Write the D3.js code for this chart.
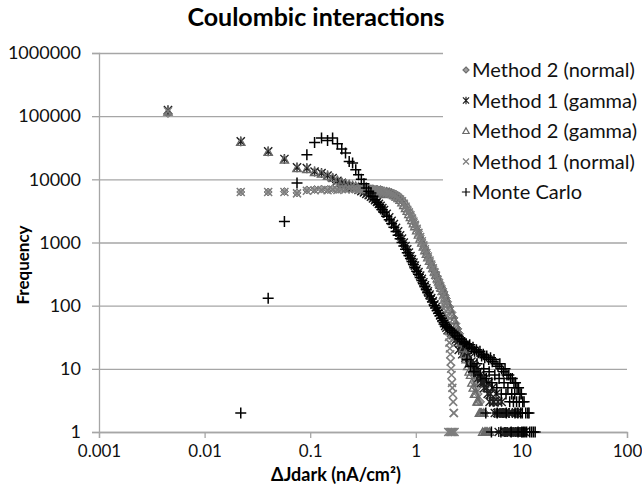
<!DOCTYPE html>
<html><head><meta charset="utf-8">
<script src="https://cdn.jsdelivr.net/npm/d3@7"></script>
<style>body{margin:0;background:#fff}svg{display:block}text{font-family:Lato,"Open Sans",sans-serif}</style>
</head><body>
<svg id="chart" width="642" height="500"></svg>
<script>
// ---------- data ----------
const chartTitle = "Coulombic interactions";
const xTitle = "ΔJdark (nA/cm²)";
const yTitle = "Frequency";
const xTicks = [0.001, 0.01, 0.1, 1, 10, 100];
const xTickLabels = ["0.001", "0.01", "0.1", "1", "10", "100"];
const yTicks = [1, 10, 100, 1000, 10000, 100000, 1000000];
const yTickLabels = ["1", "10", "100", "1000", "10000", "100000", "1000000"];
const seriesNames = ["Method 2 (normal)", "Method 1 (gamma)", "Method 2 (gamma)", "Method 1 (normal)", "Monte Carlo"];

// Method 2 (normal)
const m2nX = [0.0045,0.022,0.040,0.057,0.075,0.093,0.110,0.128,0.146,0.163,0.181,0.199,0.216,0.234,0.252,0.270,0.287,0.305,0.323,0.340,0.358,0.376,0.393,0.411,0.429,0.447,0.464,0.482,0.500,
  0.53,0.56,0.59,0.62,0.65,0.68,0.71,0.74,0.77,0.80,0.83,0.86,0.89,0.92,0.95,0.98,
  1.02,1.06,1.10,1.14,1.18,1.22,1.26,1.30,1.35,1.40,1.45,1.50,1.55,1.60,1.65,1.70,1.75,1.80,1.85,1.90,1.95,2.00,
  2.10,2.20,2.30,2.40,2.50,2.60,2.70,2.80,2.90,3.00,3.10,3.20,3.30,3.40,3.50,3.60,3.70,3.80,3.90,4.00,4.10,4.20,4.30,4.40,4.50,4.60,4.80];
const m2nY = [110000,6300,6300,6400,6100,6800,6900,7000,6900,7100,7000,7200,7100,7300,7200,7300,7100,7200,7300,7100,7200,7000,7100,6900,7000,6800,6900,6700,6600,
  6500,6400,6200,6000,5800,5500,5200,4800,4400,4000,3600,3200,2900,2600,2300,2050,
  1750,1500,1280,1100,950,820,720,630,550,480,420,370,330,290,260,230,205,185,165,145,130,115,
  95,78,64,52,43,36,30,25,21,18,15,12,11,9,8,6,5,5,4,3,3,2,2,1,2,1,1];

// Method 1 (gamma)
const m1gX = [0.0045,0.022,0.040,0.057,0.075,0.093,0.110,0.128,0.146,0.163,0.181,0.199,0.216,0.234,0.252,0.270,0.287,0.305,0.323,0.340,0.358,0.376,0.393,0.411,0.429,0.447,0.464,0.482,0.500,
  0.53,0.56,0.59,0.62,0.65,0.68,0.71,0.74,0.77,0.80,0.83,0.86,0.89,0.92,0.95,0.98,
  1.02,1.06,1.10,1.14,1.18,1.22,1.26,1.30,1.35,1.40,1.45,1.50,1.55,1.60,1.65,1.70,1.75,1.80,1.85,1.90,1.95,2.00,
  2.08,2.16,2.24,2.32,2.40,2.50,2.60,2.70,2.80,2.90,3.00,3.12,3.24,3.36,3.48,3.60,3.75,3.90,4.05,4.20,
  4.35,4.50,4.70,4.90,5.10,5.30,5.50,5.75,6.00,6.25,6.50,6.75,7.00,7.30,7.60,7.90,8.20,8.50,8.80,9.10,
  9.50,9.90,10.4,5.6,6.1,6.6,7.1,7.7,8.3,8.9,9.3,9.7,10.2,10.8,
  2.55,2.75,2.95,3.18,3.42,3.65,3.85,4.15,4.45,4.80,5.00,5.40,5.90,6.40,6.90,7.40];
const m1gY = [125000,40000,27700,21000,15500,15000,13300,12600,11500,10500,9500,8800,8200,7800,7400,7100,6800,6500,6200,5900,5600,5300,5000,4700,4400,4100,3800,3500,3250,
  2850,2500,2200,1950,1700,1500,1300,1150,1000,880,780,690,610,540,480,430,
  380,340,300,265,235,210,188,168,150,132,118,105,95,86,78,70,64,58,53,48,45,41,
  40,37,34,31,29,27,25,23,21,19,18,16,15,13,12,11,10,9,8,7,
  6,7,5,6,4,5,3,4,3,2,3,2,2,1,2,1,2,1,1,1,
  1,1,1,2,1,2,1,2,1,2,2,1,1,1,
  20,17,15,12,10,9,7,6,5,4,3,3,2,2,1,1];

// Method 2 (gamma)
const m2gX = [0.0045,0.022,0.040,0.057,0.075,0.093,0.110,0.128,0.146,0.163,0.181,0.199,0.216,0.234,0.252,0.270,0.287,0.305,0.323,0.340,0.358,0.376,0.393,0.411,0.429,0.447,0.464,0.482,0.500,
  0.53,0.56,0.59,0.62,0.65,0.68,0.71,0.74,0.77,0.80,0.83,0.86,0.89,0.92,0.95,0.98,
  1.02,1.06,1.10,1.14,1.18,1.22,1.26,1.30,1.35,1.40,1.45,1.50,1.55,1.60,1.65,1.70,1.75,1.80,1.85,1.90,1.95,2.00,
  2.10,2.20,2.30,2.40,2.50,2.60,2.70,2.80,2.90,3.00,3.10,3.20,3.30,3.40,3.50,3.60,3.70,3.80,3.90,4.00,
  4.10,4.20,4.30,4.40,4.50,4.60,4.70,4.80,5.00];
const m2gY = [118000,39000,27000,20500,15000,14500,13000,12300,11300,10500,9600,9000,8600,8300,8000,7800,7600,7500,7300,7200,7000,6900,6700,6600,6400,6300,6100,6000,5800,
  6300,6100,5900,5600,5300,5000,4700,4300,3900,3500,3150,2800,2500,2250,2000,1800,
  1550,1330,1150,990,860,750,660,580,510,445,390,345,305,270,240,212,190,170,150,134,120,107,
  88,72,59,48,39,32,26,21,17,14,11,9,8,6,5,4,4,3,3,2,
  2,2,1,2,1,1,1,1,1];

// Method 1 (normal)
const m1nX = [0.0045,0.022,0.040,0.057,0.075,0.093,0.110,0.128,0.146,0.163,0.181,0.199,0.216,0.234,0.252,0.270,0.287,0.305,0.323,0.340,0.358,0.376,0.393,0.411,0.429,0.447,0.464,0.482,0.500,
  0.53,0.56,0.59,0.62,0.65,0.68,0.71,0.74,0.77,0.80,0.83,0.86,0.89,0.92,0.95,0.98,
  1.02,1.06,1.10,1.14,1.18,1.22,1.26,1.30,1.35,1.40,1.45,1.50,1.55,1.60,1.65,1.70,1.75,1.80,1.85,
  1.88,1.91,1.94,1.97,2.00,2.02,2.04,2.06,2.08,2.10,2.12,2.14,2.16,2.18,2.20,2.22,2.24,2.26,2.28,2.30,
  2.03,2.09,2.15,2.21,2.27,2.33];
const m1nY = [120000,6300,6300,6300,6000,6600,6700,6800,6700,6900,6800,7000,6900,7100,7000,7000,6900,7000,7100,6900,7000,6800,6900,6700,6700,6500,6500,6300,6200,
  6100,6000,5800,5600,5400,5100,4800,4500,4100,3700,3300,3000,2700,2400,2150,1900,
  1650,1420,1220,1050,900,780,680,600,520,450,390,340,300,260,225,195,170,145,125,
  108,95,82,70,58,48,40,32,26,21,17,13,10,8,6,5,4,3,2,2,
  1,1,1,1,1,1];

// Monte Carlo
const mcX = [0.022,0.040,0.057,0.075,0.093,0.110,0.128,0.146,0.163,0.181,0.199,0.216,0.234,0.252,0.270,0.287,0.305,0.323,0.340,0.358,0.376,0.393,0.411,0.429,0.447,0.464,0.482,0.500,
  0.53,0.56,0.59,0.62,0.65,0.68,0.71,0.74,0.77,0.80,0.83,0.86,0.89,0.92,0.95,0.98,
  1.02,1.06,1.10,1.14,1.18,1.22,1.26,1.30,1.35,1.40,1.45,1.50,1.55,1.60,1.65,1.70,1.75,1.80,1.85,1.90,1.95,2.00,
  2.08,2.16,2.24,2.32,2.40,2.50,2.60,2.70,2.80,2.90,3.00,3.12,3.24,3.36,3.48,3.60,3.75,3.90,4.05,4.20,
  4.35,4.50,4.70,4.90,5.10,5.30,5.50,5.75,6.00,6.25,6.50,6.75,7.00,7.30,7.60,7.90,8.20,8.50,8.80,9.10,
  9.40,9.70,10.0,10.3,10.6,11.0,11.5,12.0,13.0,
  4.6,5.2,5.9,6.4,7.2,8.0,8.7,9.3,10.1,10.8,12.5,13.5,
  3.05,3.30,3.55,3.80,4.10,4.40,4.65,4.95,5.25,5.60,5.85,6.15,6.45,6.85,7.15,7.45,7.75,8.10,8.40,8.65,9.00,9.25,9.55,9.85,10.2,10.45,11.2,11.8];
const mcY = [2,131,2150,8750,24500,38400,45100,41300,45100,36700,30200,26100,19200,18100,14200,11800,10000,8500,7270,6500,6060,5400,4750,4300,3950,3650,3300,3000,
  2600,2300,2000,1750,1500,1300,1150,1000,880,780,690,620,560,500,450,400,
  350,315,280,250,222,200,178,160,142,128,114,100,92,84,76,69,63,58,54,50,47,45,
  43,41,38,37,34,33,30,29,27,26,25,23,24,21,22,19,20,18,19,16,
  17,15,16,14,15,13,14,12,11,12,10,9,10,8,8,7,7,6,6,5,
  5,4,4,3,3,2,2,1,1,
  2,1,2,1,2,1,2,1,1,1,1,1,
  14,11,9,12,8,10,7,9,6,8,5,7,4,6,4,5,3,4,3,4,3,2,3,2,2,1,1,2];

// ---------- chart ----------
const svg = d3.select("#chart");
const W = 642, H = 500;
const pLeft = 99, pRight = 627, pTop = 53, pBottom = 432;
const x = d3.scaleLog().domain([0.001, 100]).range([pLeft, pRight]);
const y = d3.scaleLog().domain([1, 1000000]).range([pBottom, pTop]);
const gridColor = "#a6a6a6";

// gridlines
svg.append("g").attr("transform", `translate(${pLeft},0)`)
  .call(d3.axisLeft(y).tickValues(yTicks).tickSize(-(pRight - pLeft)).tickFormat(""))
  .call(g => g.select(".domain").remove())
  .call(g => g.selectAll("line").attr("stroke", gridColor).attr("stroke-width", 1.3));

// axes
const yAxis = svg.append("g").attr("transform", `translate(${pLeft},0)`)
  .call(d3.axisLeft(y).tickValues(yTicks).tickSize(7).tickPadding(11).tickFormat((d, i) => yTickLabels[i]));
const xAxis = svg.append("g").attr("transform", `translate(0,${pBottom})`)
  .call(d3.axisBottom(x).tickValues(xTicks).tickSize(6).tickPadding(5).tickFormat((d, i) => xTickLabels[i]));
[yAxis, xAxis].forEach(a => {
  a.select(".domain").attr("stroke", gridColor).attr("stroke-width", 1.3);
  a.selectAll(".tick line").attr("stroke", gridColor).attr("stroke-width", 1.3);
  a.selectAll("text").attr("fill", "#111").style("font-family", "Lato");
});
yAxis.selectAll("text").style("font-size", "18px");
xAxis.selectAll("text").style("font-size", "17px").attr("dy", "0.8em");

// marker shapes
function markerPath(type, s) {
  switch (type) {
    case "diamond": return `M0,${-s}L${s},0L0,${s}L${-s},0Z`;
    case "star": return `M${-s},${-s}L${s},${s}M${-s},${s}L${s},${-s}M0,${-s * 1.2}L0,${s * 1.2}`;
    case "triangle": return `M0,${-s}L${s},${s * 0.8}L${-s},${s * 0.8}Z`;
    case "x": return `M${-s},${-s}L${s},${s}M${-s},${s}L${s},${-s}`;
    case "plus": return `M${-s},0L${s},0M0,${-s}L0,${s}`;
  }
}
const styles = [
  { type: "diamond", size: 4, fill: "#a0a0a0", stroke: "#6f6f6f", sw: 1 },
  { type: "star", size: 4.1, fill: "none", stroke: "#1e1e1e", sw: 1.4 },
  { type: "triangle", size: 4.2, fill: "none", stroke: "#6a6a6a", sw: 1.3 },
  { type: "x", size: 4, fill: "none", stroke: "#7d7d7d", sw: 1.5 },
  { type: "plus", size: 5.5, fill: "none", stroke: "#000", sw: 1.5 }
];
const seriesData = [
  m2nX.map((v, i) => [v, m2nY[i]]),
  m1gX.map((v, i) => [v, m1gY[i]]),
  m2gX.map((v, i) => [v, m2gY[i]]),
  m1nX.map((v, i) => [v, m1nY[i]]),
  mcX.map((v, i) => [v, mcY[i]])
];

const plot = svg.append("g");
seriesData.forEach((data, si) => {
  const st = styles[si];
  plot.append("g").selectAll("path").data(data).join("path")
    .attr("transform", d => `translate(${x(d[0])},${y(d[1])})`)
    .attr("d", markerPath(st.type, st.size))
    .attr("fill", st.fill).attr("stroke", st.stroke).attr("stroke-width", st.sw);
});

// legend
const lg = svg.append("g");
lg.append("rect").attr("x", 443).attr("y", 44).attr("width", W - 443).attr("height", 172).attr("fill", "#fff");
const legY = [70, 100.5, 131, 161.5, 192];
seriesNames.forEach((name, i) => {
  const st = styles[i];
  lg.append("path").attr("transform", `translate(466,${legY[i]})`)
    .attr("d", markerPath(st.type, st.size * 0.75))
    .attr("fill", st.fill).attr("stroke", st.stroke).attr("stroke-width", 1.2);
  lg.append("text").attr("x", 472).attr("y", legY[i]).attr("dy", "0.35em")
    .style("font-size", "20px").attr("fill", "#111").text(name);
});

// titles
svg.append("text").attr("x", 316).attr("y", 26).attr("text-anchor", "middle")
  .style("font-size", "25px").style("font-weight", "bold").text(chartTitle);
svg.append("text").attr("x", 336).attr("y", 481).attr("text-anchor", "middle")
  .style("font-size", "18px").style("font-weight", "bold").text(xTitle);
svg.append("text").attr("transform", "translate(29,265) rotate(-90)").attr("text-anchor", "middle")
  .style("font-size", "17px").style("font-weight", "bold").text(yTitle);
</script>
</body></html>
